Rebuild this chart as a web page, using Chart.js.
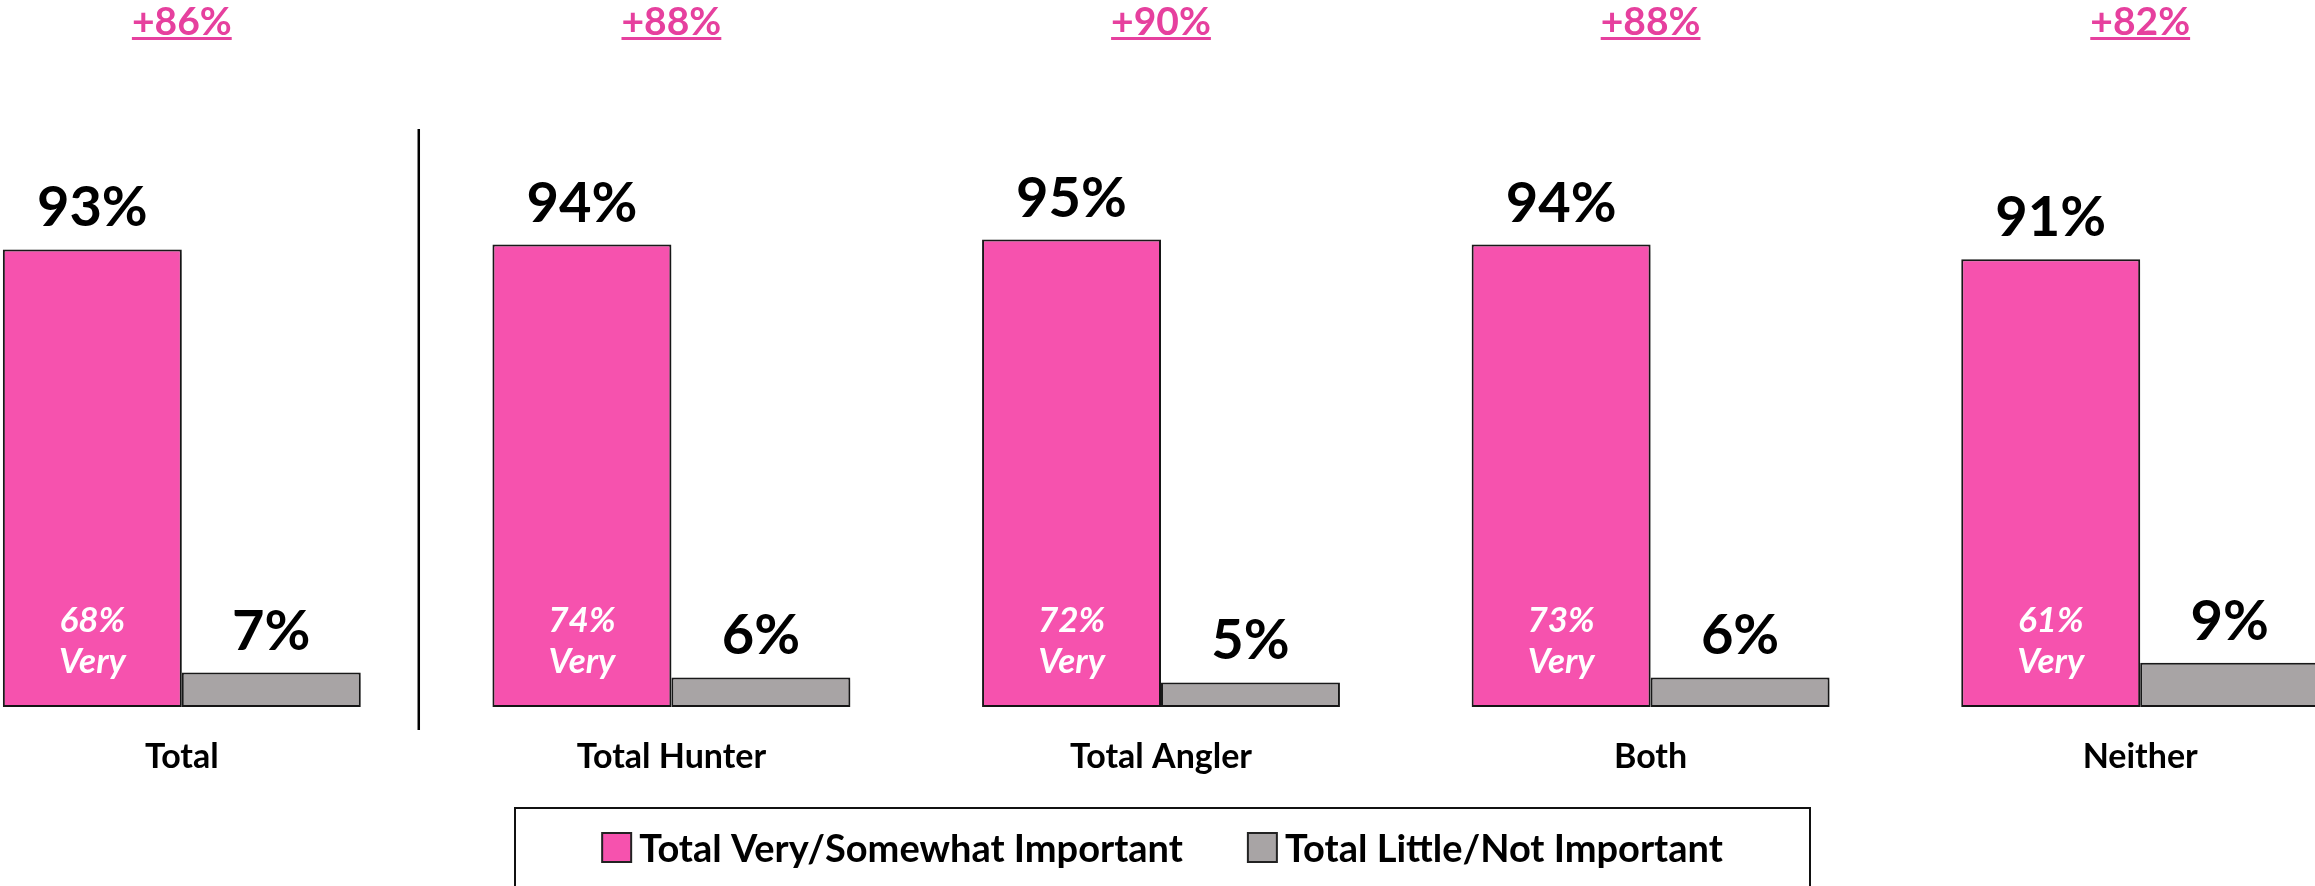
<!DOCTYPE html>
<html>
<head>
<meta charset="utf-8">
<script src="https://cdn.jsdelivr.net/npm/chart.js@4"></script>
<style>
  html, body { margin: 0; padding: 0; background: #ffffff; overflow: hidden; }
  #wrap { width: 2315px; height: 886px; overflow: hidden; position: relative; }
  #barchart { position: absolute; left: -63px; top: 0; }
</style>
</head>
<body>
<div id="wrap">
  <canvas id="barchart" width="2448" height="886"></canvas>
</div>
<script>
// chart values
var categories = ['Total', 'Total Hunter', 'Total Angler', 'Both', 'Neither'];
var importantVals = [93, 94, 95, 94, 91];
var notImportantVals = [7, 6, 5, 6, 9];
var veryVals = [68, 74, 72, 73, 61];
var netLabels = ['+86%', '+88%', '+90%', '+88%', '+82%'];
var seriesNames = ['Total Very/Somewhat Important', 'Total Little/Not Important'];

var pink = 'rgb(246, 82, 174)';
var grey = 'rgb(168, 164, 165)';
var fontFam = 'Lato, "Open Sans", sans-serif';
var shift = 63; // canvas sits 63px left of the page

// soft shadow under the bars
var shadowPlugin = {
    id: 'shadowPlugin',
    beforeDatasetsDraw: function(chart) {
        var ctx = chart.ctx;
        ctx.save();
        ctx.shadowColor = 'rgba(0, 0, 0, 0.25)';
        ctx.shadowBlur = 6;
        ctx.shadowOffsetX = 2;
        ctx.shadowOffsetY = 3;
    },
    afterDatasetsDraw: function(chart) {
        chart.ctx.restore();
    }
};

var labelsPlugin = {
    id: 'labelsPlugin',
    afterDatasetsDraw: function(chart) {
        var ctx = chart.ctx;
        var xs = chart.scales.x;
        var ys = chart.scales.y;
        var base = ys.getPixelForValue(0);
        ctx.save();

        // value labels above bars
        ctx.fillStyle = '#000';
        ctx.textAlign = 'center';
        ctx.textBaseline = 'alphabetic';
        ctx.font = 'bold 56px ' + fontFam;
        [0, 1].forEach(function(d) {
            var meta = chart.getDatasetMeta(d);
            var vals = d === 0 ? importantVals : notImportantVals;
            meta.data.forEach(function(bar, i) {
                ctx.fillText(vals[i] + '%', bar.x, bar.y - 23);
            });
        });

        // "Very" labels inside pink bars
        ctx.fillStyle = '#fff';
        ctx.textBaseline = 'middle';
        ctx.font = 'italic bold 35px ' + fontFam;
        chart.getDatasetMeta(0).data.forEach(function(bar, i) {
            ctx.fillText(veryVals[i] + '%', bar.x, base - 86);
            ctx.fillText('Very', bar.x, base - 45);
        });

        // net labels on top, underlined
        ctx.fillStyle = 'rgb(230, 64, 158)';
        ctx.textBaseline = 'alphabetic';
        ctx.font = 'bold 39px ' + fontFam;
        netLabels.forEach(function(t, i) {
            var cx = xs.getPixelForValue(i);
            var w = ctx.measureText(t).width;
            ctx.fillText(t, cx, 35);
            ctx.fillRect(cx - w / 2, 37, w, 3);
        });

        // separator between Total and the subgroups
        var sx = xs.getPixelForValue(0.484);
        ctx.strokeStyle = '#000';
        ctx.lineWidth = 2.5;
        ctx.beginPath();
        ctx.moveTo(sx, 129);
        ctx.lineTo(sx, 730);
        ctx.stroke();

        // legend box
        var boxL = 515 + shift, boxR = 1810 + shift, boxT = 808;
        ctx.lineWidth = 2;
        ctx.strokeStyle = '#111';
        ctx.strokeRect(boxL, boxT, boxR - boxL, 120);

        ctx.font = 'bold 38px ' + fontFam;
        var sw = 29, gapSw = 8, gapItem = 65;
        var w0 = ctx.measureText(seriesNames[0]).width;
        var w1 = ctx.measureText(seriesNames[1]).width;
        var total = sw + gapSw + w0 + gapItem + sw + gapSw + w1;
        var lx = (boxL + boxR) / 2 - total / 2;
        var cols = [pink, grey];
        var widths = [w0, w1];
        ctx.textAlign = 'left';
        for (var k = 0; k < 2; k++) {
            ctx.fillStyle = cols[k];
            ctx.fillRect(lx, 833, sw, sw);
            ctx.lineWidth = 2;
            ctx.strokeStyle = '#222';
            ctx.strokeRect(lx, 833, sw, sw);
            ctx.fillStyle = '#000';
            ctx.fillText(seriesNames[k], lx + sw + gapSw, 862);
            lx += sw + gapSw + widths[k] + gapItem;
        }
        ctx.restore();
    }
};

var ctxbar = document.getElementById('barchart');
var barchart = new Chart(ctxbar, {
    type: 'bar',
    data: {
        labels: categories,
        datasets: [{
            label: seriesNames[0],
            data: importantVals,
            backgroundColor: pink,
            borderColor: '#1a1a1a',
            borderWidth: 2,
            borderSkipped: false
        }, {
            label: seriesNames[1],
            data: notImportantVals,
            backgroundColor: grey,
            borderColor: '#1a1a1a',
            borderWidth: 2,
            borderSkipped: false
        }]
    },
    options: {
        responsive: false,
        animation: false,
        layout: {
            padding: { top: 215, left: 0, right: 0, bottom: 0 }
        },
        categoryPercentage: 0.731,
        barPercentage: 1,
        plugins: {
            legend: { display: false },
            tooltip: { enabled: false }
        },
        scales: {
            x: {
                grid: { display: false, drawTicks: false },
                border: { display: false },
                ticks: {
                    color: '#000',
                    padding: 30,
                    font: { family: fontFam, size: 34, weight: 'bold' }
                },
                afterFit: function(scale) {
                    scale.height = 179;
                }
            },
            y: {
                display: false,
                min: 0,
                max: 100
            }
        }
    },
    plugins: [shadowPlugin, labelsPlugin]
});
</script>
</body>
</html>
